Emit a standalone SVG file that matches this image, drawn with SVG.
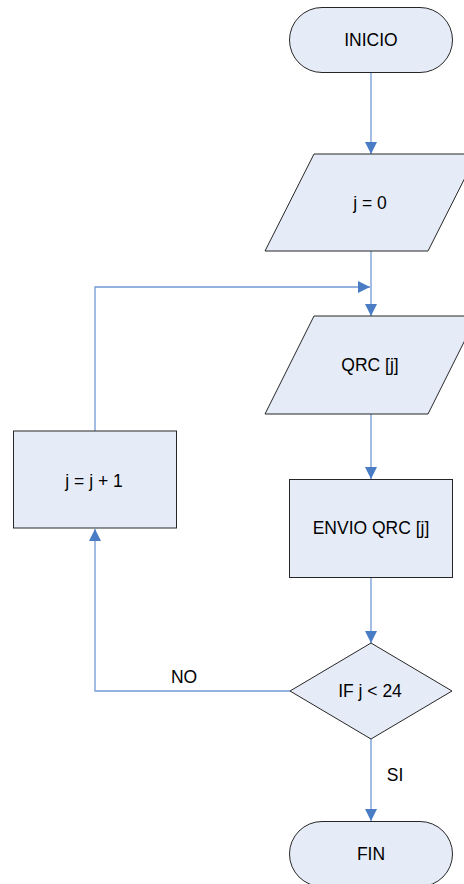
<svg xmlns="http://www.w3.org/2000/svg" width="464" height="884" viewBox="0 0 464 884">
<style>
.s{fill:#E6ECF7;stroke:#262626;stroke-width:1}
.t{font-family:"Liberation Sans",Arial,sans-serif;font-size:17.5px;fill:#000;text-anchor:middle}
.c{fill:none;stroke:#7299D6;stroke-width:1.3}
</style>
<defs>
<marker id="a" markerUnits="userSpaceOnUse" markerWidth="12" markerHeight="12" refX="12" refY="6" orient="auto">
<path d="M0,0 L12,6 L0,12 z" fill="#4A7CC6"/>
</marker>
</defs>
<rect width="464" height="884" fill="#fff"/>
<g id="connectors">
<path class="c" d="M371,73 V154" marker-end="url(#a)"/>
<path class="c" d="M371,251 V316" marker-end="url(#a)"/>
<path class="c" d="M95,431 V287 H370" marker-end="url(#a)"/>
<path class="c" d="M371,414 V479" marker-end="url(#a)"/>
<path class="c" d="M371,577 V643" marker-end="url(#a)"/>
<path class="c" d="M290,691 H95 V529" marker-end="url(#a)"/>
<path class="c" d="M371,739 V821" marker-end="url(#a)"/>
<text class="t" x="184" y="683">NO</text>
<text class="t" x="395" y="781">SI</text>
</g>
<g id="inicio">
<rect class="s" x="289.5" y="7.5" width="163" height="65" rx="32.5"/>
<text class="t" x="371" y="46">INICIO</text>
</g>
<g id="j0">
<polygon class="s" points="314,154 477,154 428,251 265,251"/>
<text class="t" x="370" y="209">j = 0</text>
</g>
<g id="qrc">
<polygon class="s" points="314,316 477,316 428,414 265,414"/>
<text class="t" x="370" y="371">QRC [j]</text>
</g>
<g id="inc">
<rect class="s" x="13.5" y="431" width="163" height="97"/>
<text class="t" x="94" y="486.5">j = j + 1</text>
</g>
<g id="envio">
<rect class="s" x="289.5" y="479.5" width="163" height="98"/>
<text class="t" x="371" y="534">ENVIO QRC [j]</text>
</g>
<g id="if">
<polygon class="s" points="371,643 452,691 371,739 290,691"/>
<text class="t" x="370" y="697">IF j &lt; 24</text>
</g>
<g id="fin">
<rect class="s" x="289.5" y="821.5" width="163" height="65" rx="32.5"/>
<text class="t" x="371" y="860">FIN</text>
</g>
</svg>
